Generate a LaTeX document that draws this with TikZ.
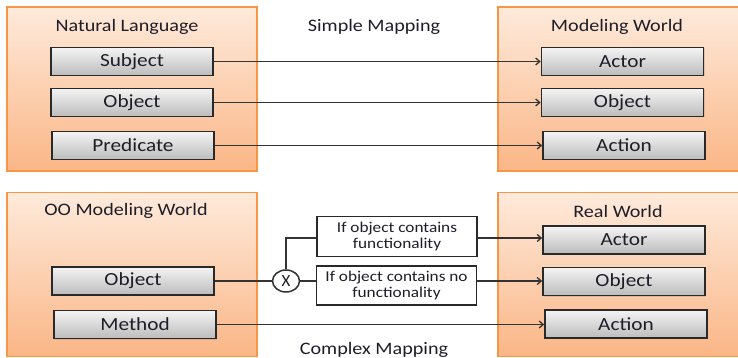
\documentclass[tikz,border=0pt]{standalone}
\usepackage{fontspec}
\setmainfont{Carlito}
\usetikzlibrary{arrows.meta,shadows,shapes.geometric}
\definecolor{orangeedge}{HTML}{F79646}
\definecolor{orangetop}{HTML}{FEEADB}
\definecolor{orangebot}{HTML}{FAB686}
\definecolor{graytop}{HTML}{F4F4F4}
\definecolor{graybot}{HTML}{BCBCBC}
\definecolor{ink}{HTML}{333333}
\definecolor{txt}{HTML}{1E1E28}
% slightly widened lettering
\newcommand{\wide}[1]{\scalebox{1.15}[1]{#1}}
\newcommand{\titlefont}{\fontsize{17.5}{21}\selectfont}
\newcommand{\labelfont}{\fontsize{18.5}{21}\selectfont}
\newcommand{\notefont}{\fontsize{15}{17}\selectfont}

\begin{document}
\begin{tikzpicture}[x=1pt,y=-1pt,
  panel/.style={draw=orangeedge, line width=1.2pt, top color=orangetop,
    bottom color=orangebot, minimum width=250pt, minimum height=164pt,
    inner sep=0pt},
  itembox/.style={draw=ink!80!black, line width=1.7pt, top color=graytop,
    bottom color=graybot, minimum width=162pt, minimum height=28pt,
    inner sep=0pt, text=txt, font=\labelfont,
    drop shadow={shadow xshift=1pt, shadow yshift=-1pt, opacity=0.25}},
  notebox/.style={draw=ink!80!black, line width=1.3pt, fill=white,
    minimum width=160pt, minimum height=40pt, inner sep=0pt, text=txt,
    font=\notefont, align=center},
  heading/.style={text=txt, font=\titlefont, inner sep=0pt},
  link/.style={draw=ink, line width=1.3pt},
  arrowlink/.style={link, -{Straight Barb[length=4pt,width=7pt]}}
]
\useasboundingbox (0,0) rectangle (738,358);

% four panels
\node[panel] (nl)  at (132,89)    {};
\node[panel] (mw)  at (623,89)    {};
\node[panel] (oo)  at (132,274.5) {};
\node[panel] (rw)  at (623,274.5) {};

% panel headings
\node[heading] (nlt) at (127,27)  {\wide{Natural Language}};
\node[heading] (mwt) at (617,27)  {\wide{Modeling World}};
\node[heading] (oot) at (126,211) {\wide{OO Modeling World}};
\node[heading] (rwt) at (618,211) {\wide{Real World}};
\node[heading] (sm)  at (374,27)  {\wide{Simple Mapping}};
\node[heading] (cm)  at (374,350) {\wide{Complex Mapping}};

% natural language items
\node[itembox] (subj) at (132,61.5)  {\wide{Subject}};
\node[itembox] (nobj) at (132,102.5) {\wide{Object}};
\node[itembox] (pred) at (133,145.5) {\wide{Predicate}};

% modeling world items
\node[itembox] (mact) at (622.5,61.5)  {\wide{Actor}};
\node[itembox] (mobj) at (622.5,102.5) {\wide{Object}};
\node[itembox] (mion) at (624,145.5)   {\wide{Action}};

% OO modeling world items
\node[itembox] (oobj) at (133,281)   {\wide{Object}};
\node[itembox] (ometh) at (135,324.5) {\wide{Method}};

% real world items
\node[itembox] (ract) at (624,240)   {\wide{Actor}};
\node[itembox] (robj) at (624,281.5) {\wide{Object}};
\node[itembox] (rion) at (626,324)   {\wide{Action}};

% decision
\node[ellipse, draw=ink, line width=1.5pt, fill=white, minimum width=27pt,
  minimum height=22pt, inner sep=0pt, text=txt,
  font=\fontsize{17}{17}\selectfont] (xor) at (286,281) {X};
\node[notebox] (yes) at (397,236.5)
  {\wide{If object contains}\\[-1pt]\wide{functionality}};
\node[notebox, minimum height=39pt] (no) at (396.5,285.5)
  {\wide{If object contains no}\\[-1pt]\wide{functionality}};

% simple mapping
\draw[arrowlink] (subj.east) -- (subj.east -| mact.west);
\draw[arrowlink] (nobj.east) -- (nobj.east -| mobj.west);
\draw[arrowlink] (pred.east) -- (pred.east -| mion.west);

% complex mapping
\draw[link] (oobj.east) -- (xor.west);
\draw[link] (xor.north) |- ([yshift=-1.5pt]yes.west);
\draw[link] (xor.east) -- (xor.east -| no.west);
\draw[arrowlink] ([yshift=-1.5pt]yes.east) -- ([yshift=-1.5pt]yes.east -| ract.west);
\draw[arrowlink] (xor.east -| no.east) -- (xor.east -| robj.west);
\draw[arrowlink] (ometh.east) -- (ometh.east -| rion.west);
\end{tikzpicture}
\end{document}
